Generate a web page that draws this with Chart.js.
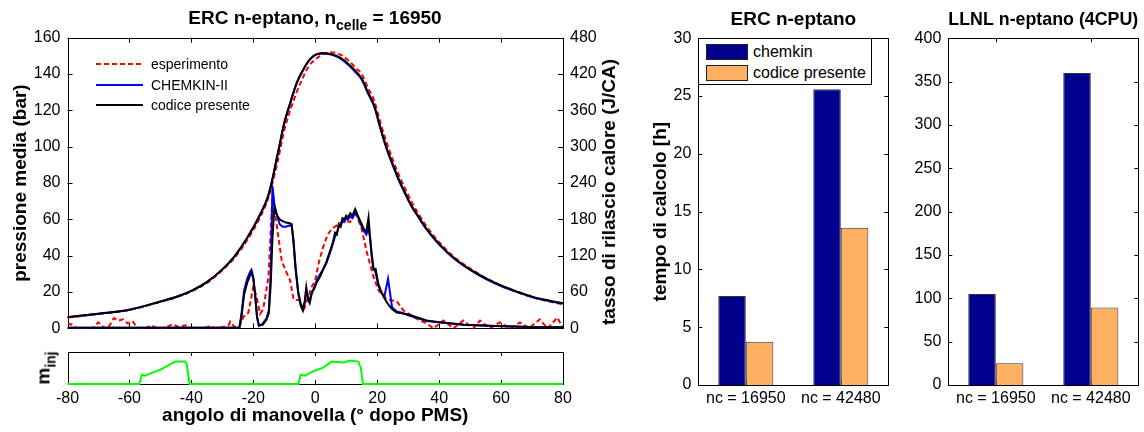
<!DOCTYPE html>
<html>
<head>
<meta charset="utf-8">
<script src="https://cdn.jsdelivr.net/npm/chart.js@4.4.1/dist/chart.umd.min.js"></script>
<style>
  body { margin: 0; background: #fff; font-family: "Liberation Sans", Arial, sans-serif; }
  #page { position: relative; width: 1144px; height: 432px; overflow: hidden; background: #fff; }
  canvas { position: absolute; }
  .lbl { position: absolute; font-weight: bold; font-size: 19px; white-space: nowrap; color: #000; line-height: 22px; }
  #mainTitle { left: 67px; width: 496px; top: 7px; text-align: center; }
  #mainTitle .sub { font-size: 14px; position: relative; top: 6px; }
  #rightTitle { left: 609px; top: 192px; transform: translate(-50%, -50%) rotate(-90deg); }
  #injTitle { left: 44px; top: 368px; transform: translate(-50%, -50%) rotate(-90deg); }
  #injTitle .sub { font-size: 14px; position: relative; top: 6px; }
  #mainLegend { position: absolute; left: 96px; top: 54px; font-size: 14px; }
  #mainLegend .row { display: flex; align-items: center; height: 20.5px; }
  #mainLegend .row span { margin-left: 8px; }
  #barLegend { position: absolute; left: 698px; top: 38px; width: 172px; height: 45px; border: 1px solid #000; background: #fff; font-size: 16px; }
  #barLegend .row { position: absolute; left: 7px; display: flex; align-items: center; }
  #barLegend .patch { width: 40px; height: 14px; border: 1px solid #222; }
  #barLegend .row span { margin-left: 5px; }
</style>
</head>
<body>
<div id="page">
  <canvas id="mainChart" width="640" height="345" style="left:0;top:0"></canvas>
  <canvas id="injChart" width="640" height="87" style="left:0;top:345px"></canvas>
  <canvas id="ercChart" width="260" height="432" style="left:640px;top:0"></canvas>
  <canvas id="llnlChart" width="244" height="432" style="left:900px;top:0"></canvas>
  <div class="lbl" id="mainTitle">ERC n-eptano, n<span class="sub">celle</span> = 16950</div>
  <div class="lbl" id="rightTitle">tasso di rilascio calore (J/CA)</div>
  <div class="lbl" id="injTitle">m<span class="sub">inj</span></div>
  <div id="mainLegend"></div>
  <div id="barLegend"></div>
</div>
<script>
// pressure (bar) vs crank angle
const pAng = [-80, -70, -60, -50, -45, -40, -35, -30, -26, -22,
  -18, -15, -12, -10, -8, -6, -4, -2, 0, 2,
  3, 5, 7, 9, 11, 13, 15, 17, 19, 21,
  23, 25, 27, 29, 31, 33, 36, 40, 45, 50,
  55, 60, 65, 70, 75, 80];
const pExp = [5.9, 7.9, 10.1, 14.6, 17.0, 20.4, 25.0, 32.0, 39.0, 48.5,
  60.5, 72.5, 93, 109, 120.5, 130, 138, 144.5, 148, 150.5,
  151.2, 152, 151.5, 149.8, 147, 143.5, 140, 132.5, 125.5, 113.5,
  102.5, 93, 84.5, 77, 70, 64, 56, 47.5, 39, 33,
  27.8, 23.5, 20.1, 17.2, 15.0, 13.2];
const pChemkin = [6.2, 8.1, 10.3, 14.8, 17.3, 20.7, 25.5, 32.5, 39.8, 49.7,
  62, 74, 97, 113, 124.5, 135, 142, 147.5, 150.5, 151.3,
  151.3, 150.8, 149.6, 147.5, 144.5, 141, 137, 129.5, 122.3, 110.2,
  99, 89.8, 81.4, 74.2, 67.3, 62, 54.3, 46.2, 38.2, 32.2,
  27.3, 23.3, 20.1, 17.3, 15.3, 13.6];
const pCodice = [6.2, 8.1, 10.3, 14.8, 17.3, 20.7, 25.5, 32.5, 39.8, 49.7,
  62, 74, 97, 113, 124.5, 135, 142, 147.5, 150.5, 151.5,
  151.5, 151, 150, 148, 145, 141.8, 137.5, 130, 122.8, 110.8,
  99.5, 90.5, 82, 74.7, 67.8, 62.5, 54.7, 46.5, 38.5, 32.5,
  27.6, 23.6, 20.4, 17.5, 15.5, 13.8];

// heat release rate (J/CA), simulations
const hAng = [-80, -24.5, -23.8, -23, -22, -21, -20.6, -20, -19.4, -18.8,
  -18.2, -17, -15.8, -15, -14.4, -13.8, -13.2, -12.5, -11.5, -10.5,
  -9.5, -8.5, -7.6, -7.0, -6.4, -5.5, -4.6, -4.0, -3.4, -2.9,
  -2.3, -1.8, -1.1, -0.3, 0.5, 1.6, 2.6, 3.6, 4.6, 5.6,
  6.4, 7.0, 7.6, 8.2, 8.8, 9.4, 10.0, 10.6, 11.3, 12.0,
  12.9, 13.6, 14.3, 15.0, 15.8, 16.5, 17.2, 17.7, 18.2, 18.8,
  19.5, 20.3, 21.2, 22.3, 23.5, 24.8, 26.3, 28, 30.5, 33,
  36, 40, 44, 48, 52, 58, 64, 72, 80];
const hChemkin = [1, 1, 25, 62, 82, 94, 97, 85, 55, 18,
  4, 8, 16, 30, 90, 235, 205, 190, 172, 168,
  168, 170, 169, 145, 105, 58, 36, 30, 42, 60,
  52, 45, 60, 68, 80, 90, 98, 108, 122, 138,
  152, 158, 168, 170, 178, 176, 182, 180, 185, 182,
  190, 186, 178, 168, 160, 155, 165, 150, 125, 100,
  92, 72, 60, 52, 82, 35, 28, 26, 21, 17,
  12, 10, 8, 6, 5, 4, 3, 2, 2];
const hCodice = [1, 1, 20, 55, 75, 88, 92, 82, 55, 20,
  5, 6, 14, 25, 70, 150, 201, 188, 180, 177,
  175, 174, 172, 140, 100, 60, 38, 30, 45, 68,
  48, 42, 58, 66, 76, 86, 98, 110, 125, 140,
  158, 155, 172, 168, 182, 180, 186, 183, 190, 186,
  197, 188, 180, 172, 163, 160, 183, 150, 120, 97,
  98, 75, 62, 50, 40, 32, 26, 25, 22, 18,
  13, 10, 8, 6, 5, 4, 3, 2, 2];

// heat release rate (J/CA), experiment
const hAngExp = [-80, -78.5, -77, -74, -72, -70, -68.5, -67, -65, -63.5,
  -62, -60.5, -59, -57.5, -55, -53, -51, -49, -46, -44,
  -42, -40, -36, -34, -32, -30, -28, -27.5, -26, -24.5,
  -23.2, -21.6, -20, -19, -17.8, -16.8, -15.1, -13.8, -12.4, -10.8,
  -9.5, -8.1, -7, -4.9, -3.8, -2.2, -1, 0, 1.2, 2.6,
  4, 5.5, 7, 9.1, 11.3, 12.9, 15, 16.6, 18.8, 20.4,
  23.1, 26.3, 28.4, 32.7, 36, 38.2, 41.4, 44.6, 47.8, 51,
  53.2, 56.4, 59.6, 63, 66.1, 69, 72.5, 75, 78.2, 80];
const hExp = [8, 6, 0, 0, 0, 10, 2, 0, 17, 13,
  15, 8, 12, 1, 0, 5, 0, 0, 7, 2,
  5, 0, 0, 4, 0, 2, 5, 11, 2, 3,
  19, 26, 69, 53, 24, 32, 85, 222, 169, 111,
  95, 79, 48, 46, 29, 53, 70, 79, 110, 135,
  155, 165, 170, 178, 176, 193, 164, 127, 85, 63,
  48, 45, 30, 16, 8, 0, 13, 0, 13, 0,
  13, 0, 10, 0, 10, 0, 15, 0, 18, 0];

// injected mass (arbitrary units)
const injAng = [-80, -56.8, -56.0, -54.9, -52.2, -50.1, -47.9, -45.8, -45.2, -42.0,
  -41.5, -40.6, -5.4, -4.7, -3.3, -0.6, 2.6, 5.3, 9.1, 11.3,
  13.9, 14.7, 15.4, 80];
const injVal = [0, 0, 0.29, 0.26, 0.37, 0.44, 0.56, 0.67, 0.70, 0.70,
  0.62, 0, 0, 0.29, 0.26, 0.40, 0.51, 0.70, 0.67, 0.73,
  0.70, 0.51, 0, 0];

// computing times
const ncLabels = ["nc = 16950", "nc = 42480"];
const ercChemkin = [7.7, 25.6];
const ercCodice = [3.75, 13.6];
const llnlChemkin = [105, 360];
const llnlCodice = [25, 89.5];

const FONT = '"Liberation Sans", Arial, sans-serif';
const NAVY = "#00008c";
const ORANGE = "#ffb062";
Chart.defaults.font.family = FONT;
Chart.defaults.font.size = 16;
Chart.defaults.color = "#000";

function pts(xs, ys) {
  return xs.map((x, i) => ({ x: x, y: ys[i] }));
}

// matlab style box with inward tick marks
const boxTicks = {
  id: "boxTicks",
  beforeDatasetsDraw(chart, args, opts) {
    const { ctx, chartArea: a } = chart;
    ctx.save();
    ctx.strokeStyle = "#000";
    ctx.lineWidth = 1;
    ctx.beginPath();
    (opts.marks || []).forEach((m) => {
      const s = chart.scales[m.scale];
      const len = m.len || 5;
      s.ticks.forEach((t, i) => {
        const p = Math.round(s.getPixelForTick(i)) + 0.5;
        m.sides.forEach((side) => {
          if (side === "bottom") { ctx.moveTo(p, a.bottom); ctx.lineTo(p, a.bottom - len); }
          if (side === "top") { ctx.moveTo(p, a.top); ctx.lineTo(p, a.top + len); }
          if (side === "left") { ctx.moveTo(a.left, p); ctx.lineTo(a.left + len, p); }
          if (side === "right") { ctx.moveTo(a.right, p); ctx.lineTo(a.right - len, p); }
        });
      });
    });
    ctx.stroke();
    ctx.strokeRect(Math.round(a.left) + 0.5, Math.round(a.top) + 0.5,
      Math.round(a.right) - Math.round(a.left), Math.round(a.bottom) - Math.round(a.top));
    ctx.restore();
  },
};

const hidden = { display: false, drawTicks: false };
const noBorder = { display: false };
const boldTitle = { size: 19, weight: "bold" };
const smooth = "monotone";

const mainChart = new Chart(document.getElementById("mainChart"), {
  type: "line",
  data: {
    datasets: [
      { label: "esperimento", data: pts(pAng, pExp), yAxisID: "y", borderColor: "#ff0000", borderDash: [5, 3], cubicInterpolationMode: smooth, order: 3 },
      { label: "CHEMKIN-II", data: pts(pAng, pChemkin), yAxisID: "y", borderColor: "#0000ff", cubicInterpolationMode: smooth, order: 2 },
      { label: "codice presente", data: pts(pAng, pCodice), yAxisID: "y", borderColor: "#000000", cubicInterpolationMode: smooth, order: 1 },
      { label: "hrr esperimento", data: pts(hAngExp, hExp), yAxisID: "y2", borderColor: "#ff0000", borderDash: [5, 3], order: 6 },
      { label: "hrr CHEMKIN-II", data: pts(hAng, hChemkin), yAxisID: "y2", borderColor: "#0000ff", order: 5 },
      { label: "hrr codice presente", data: pts(hAng, hCodice), yAxisID: "y2", borderColor: "#000000", order: 4 },
    ],
  },
  options: {
    responsive: false,
    animation: false,
    layout: { padding: { top: 37.7 } },
    elements: { point: { radius: 0 }, line: { borderWidth: 2, tension: 0 } },
    plugins: {
      legend: { display: false },
      tooltip: { enabled: false },
      boxTicks: {
        marks: [
          { scale: "x", sides: ["bottom", "top"], len: 5 },
          { scale: "y", sides: ["left"], len: 5 },
          { scale: "y2", sides: ["right"], len: 5 },
        ],
      },
    },
    scales: {
      x: {
        type: "linear", min: -80, max: 80,
        ticks: { stepSize: 20, display: false },
        grid: hidden, border: noBorder,
        afterFit: (s) => { s.height = 5; },
      },
      y: {
        position: "left", min: 0, max: 160,
        ticks: { stepSize: 20, padding: 7 },
        grid: hidden, border: noBorder,
        title: { display: true, text: "pressione media (bar)", font: boldTitle, padding: { top: 9, bottom: 0 } },
        afterFit: (s) => { s.width = 67.5; },
      },
      y2: {
        position: "right", min: 0, max: 480,
        ticks: { stepSize: 60, padding: 7 },
        grid: hidden, border: noBorder,
        afterFit: (s) => { s.width = 77; },
      },
    },
  },
  plugins: [boxTicks],
});

new Chart(document.getElementById("injChart"), {
  type: "line",
  data: {
    datasets: [
      { label: "m_inj", data: pts(injAng, injVal), borderColor: "#00ff00", borderWidth: 2, clip: 3 },
    ],
  },
  options: {
    responsive: false,
    animation: false,
    layout: { padding: { top: 7, right: 77 } },
    elements: { point: { radius: 0 }, line: { tension: 0 } },
    plugins: {
      legend: { display: false },
      tooltip: { enabled: false },
      boxTicks: { marks: [{ scale: "x", sides: ["bottom", "top"], len: 4 }] },
    },
    scales: {
      x: {
        type: "linear", min: -80, max: 80,
        ticks: { stepSize: 20, padding: 5, maxRotation: 0 },
        grid: hidden, border: noBorder,
        title: { display: true, text: "angolo di manovella (° dopo PMS)", font: boldTitle, padding: { top: 0, bottom: 5 } },
        afterFit: (s) => { s.height = 48; },
      },
      y: {
        min: 0, max: 1,
        ticks: { display: false },
        grid: hidden, border: noBorder,
        afterFit: (s) => { s.width = 67.5; },
      },
    },
  },
  plugins: [boxTicks],
});

function barChart(canvasId, title, chemkin, codice, yMax, yStep, yTitle, yWidth, padRight) {
  const yScale = {
    min: 0, max: yMax,
    ticks: { stepSize: yStep, padding: 7 },
    grid: hidden, border: noBorder,
    afterFit: (s) => { s.width = yWidth; },
  };
  if (yTitle) {
    yScale.title = { display: true, text: yTitle, font: boldTitle, padding: { top: 9, bottom: 0 } };
  }
  return new Chart(document.getElementById(canvasId), {
    type: "bar",
    data: {
      labels: ncLabels,
      datasets: [
        { label: "chemkin", data: chemkin, backgroundColor: NAVY, borderColor: "#333", borderWidth: 1 },
        { label: "codice presente", data: codice, backgroundColor: ORANGE, borderColor: "#333", borderWidth: 1 },
      ],
    },
    options: {
      responsive: false,
      animation: false,
      layout: { padding: { right: padRight } },
      datasets: { bar: { categoryPercentage: 0.58, barPercentage: 1 } },
      plugins: {
        legend: { display: false },
        tooltip: { enabled: false },
        title: { display: true, text: title, fullSize: false, font: boldTitle, padding: { top: 8.5, bottom: 7 } },
        boxTicks: {
          marks: [
            { scale: "x", sides: ["bottom", "top"], len: 4 },
            { scale: "y", sides: ["left", "right"], len: 4 },
          ],
        },
      },
      scales: {
        x: {
          ticks: { padding: 4, maxRotation: 0 },
          grid: hidden, border: noBorder,
          afterFit: (s) => { s.height = 47; },
        },
        y: yScale,
      },
    },
    plugins: [boxTicks],
  });
}

const ercChart = barChart("ercChart", "ERC n-eptano", ercChemkin, ercCodice, 30, 5, "tempo di calcolo [h]", 58.3, 11.7);
barChart("llnlChart", "LLNL n-eptano (4CPU)", llnlChemkin, llnlCodice, 400, 50, null, 48.3, 5.7);

// legends built from the dataset labels
const mainLegend = document.getElementById("mainLegend");
mainChart.data.datasets.slice(0, 3).forEach((ds) => {
  const dash = ds.borderDash ? ' stroke-dasharray="5,3"' : "";
  mainLegend.insertAdjacentHTML("beforeend",
    '<div class="row"><svg width="47" height="4"><line x1="0" y1="2" x2="47" y2="2" stroke="' +
    ds.borderColor + '" stroke-width="2"' + dash + '/></svg><span>' + ds.label + "</span></div>");
});

const barLegend = document.getElementById("barLegend");
ercChart.data.datasets.forEach((ds, i) => {
  barLegend.insertAdjacentHTML("beforeend",
    '<div class="row" style="top:' + (4 + i * 20.5) + 'px"><div class="patch" style="background:' +
    ds.backgroundColor + '"></div><span>' + ds.label + "</span></div>");
});
</script>
</body>
</html>
